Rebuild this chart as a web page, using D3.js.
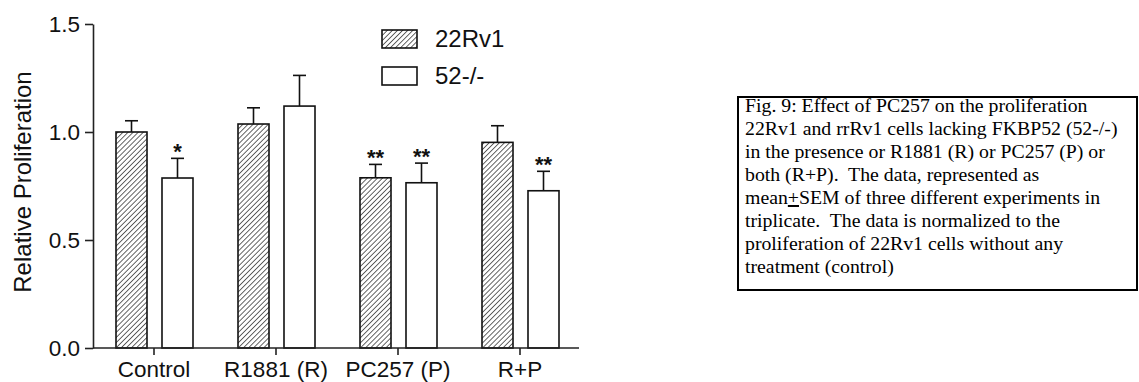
<!DOCTYPE html>
<html>
<head>
<meta charset="utf-8">
<script src="https://cdn.jsdelivr.net/npm/d3@7"></script>
<style>
    body { margin: 0; background: #fff; }
    svg { display: block; }
</style>
</head>
<body>
<div id="container"></div>
<script>
var width = 1139,
    height = 382;

// data
var categories = ["Control", "R1881 (R)", "PC257 (P)", "R+P"];
var series = ["22Rv1", "52-/-"];
var val22 = [1.0, 1.037, 0.788, 0.952];
var sem22 = [0.052, 0.075, 0.062, 0.077];
var val52 = [0.787, 1.12, 0.765, 0.728];
var sem52 = [0.091, 0.142, 0.091, 0.09];
var sig22 = ["", "", "**", ""];
var sig52 = ["*", "", "**", "**"];
var yTicks = [0, 0.5, 1.0, 1.5];

var caption = [
    "Fig. 9: Effect of PC257 on the proliferation",
    "22Rv1 and rrRv1 cells lacking FKBP52 (52-/-)",
    "in the presence or R1881 (R) or PC257 (P) or",
    "both (R+P).  The data, represented as",
    "mean|+|SEM of three different experiments in",
    "triplicate.  The data is normalized to the",
    "proliferation of 22Rv1 cells without any",
    "treatment (control)"
];

var svg = d3.select("#container").append("svg")
    .attr("width", width)
    .attr("height", height);

var defs = svg.append("defs");
defs.append("pattern")
    .attr("id", "hatch")
    .attr("patternUnits", "userSpaceOnUse")
    .attr("width", 3.6)
    .attr("height", 3.6)
    .attr("patternTransform", "rotate(45)")
    .append("line")
    .attr("x1", 0).attr("y1", 0)
    .attr("x2", 0).attr("y2", 3.6)
    .attr("stroke", "#111")
    .attr("stroke-width", 1.3);

var mLeft = 93, mRight = 581, mTop = 24, mBottom = 348;

var y = d3.scaleLinear().domain([0, 1.5]).range([mBottom, mTop]);
var x0 = d3.scaleBand().domain(categories).range([mLeft, mRight]);
var x1 = d3.scaleBand().domain(series).range([23, 100]).paddingInner(0.326);

var rows = categories.map((c, i) => {
    return [
        { cat: c, s: series[0], v: val22[i], e: sem22[i], sig: sig22[i] },
        { cat: c, s: series[1], v: val52[i], e: sem52[i], sig: sig52[i] }
    ];
});
var bars = [].concat.apply([], rows);

var fillOf = s => s == series[0] ? "url(#hatch)" : "#fff";
var bx = d => x0(d.cat) + x1(d.s);

// error bars (upper half only)
svg.selectAll(".err")
    .data(bars)
    .enter().append("line")
    .attr("class", "err")
    .attr("x1", d => bx(d) + x1.bandwidth() / 2)
    .attr("x2", d => bx(d) + x1.bandwidth() / 2)
    .attr("y1", d => y(d.v))
    .attr("y2", d => y(d.v + d.e))
    .attr("stroke", "#111")
    .attr("stroke-width", 1.6);

svg.selectAll(".cap")
    .data(bars)
    .enter().append("line")
    .attr("class", "cap")
    .attr("x1", d => bx(d) + x1.bandwidth() / 2 - 6.5)
    .attr("x2", d => bx(d) + x1.bandwidth() / 2 + 6.5)
    .attr("y1", d => y(d.v + d.e))
    .attr("y2", d => y(d.v + d.e))
    .attr("stroke", "#111")
    .attr("stroke-width", 1.6);

svg.selectAll(".bar")
    .data(bars)
    .enter().append("rect")
    .attr("class", "bar")
    .attr("x", d => bx(d))
    .attr("y", d => y(d.v))
    .attr("width", x1.bandwidth())
    .attr("height", d => y(0) - y(d.v))
    .attr("fill", d => fillOf(d.s))
    .attr("stroke", "#111")
    .attr("stroke-width", 1.6);

// significance stars sit just above the caps
svg.selectAll(".sig")
    .data(bars.filter(d => d.sig != ""))
    .enter().append("text")
    .attr("class", "sig")
    .attr("x", d => bx(d) + x1.bandwidth() / 2)
    .attr("y", d => y(d.v + d.e) + 1)
    .attr("text-anchor", "middle")
    .attr("font-family", "Liberation Sans, Arial, sans-serif")
    .attr("font-size", 22)
    .attr("font-weight", "bold")
    .attr("fill", "#111")
    .text(d => d.sig);

// axes
var yAxis = svg.append("g")
    .attr("transform", "translate(" + mLeft + ",0)")
    .call(d3.axisLeft(y).tickValues(yTicks).tickFormat(d3.format(".1f")).tickSize(8).tickSizeOuter(0).tickPadding(5));

var xAxis = svg.append("g")
    .attr("transform", "translate(0," + mBottom + ")")
    .call(d3.axisBottom(x0).tickSize(7).tickSizeOuter(0).tickPadding(6));

[yAxis, xAxis].forEach(g => {
    g.selectAll("path, line").attr("stroke", "#222").attr("stroke-width", 1.6);
    g.selectAll("text")
        .attr("font-family", "Liberation Sans, Arial, sans-serif")
        .attr("font-size", 22.5)
        .attr("fill", "#111");
});
xAxis.select(".domain").attr("d", "M" + mLeft + ",0H" + (mRight - 2));

svg.append("text")
    .attr("transform", "translate(31," + ((mTop + mBottom) / 2 - 4) + ") rotate(-90)")
    .attr("text-anchor", "middle")
    .attr("font-family", "Liberation Sans, Arial, sans-serif")
    .attr("font-size", 24)
    .attr("fill", "#111")
    .text("Relative Proliferation");

// legend
var legend = svg.selectAll(".legend")
    .data(series)
    .enter().append("g")
    .attr("class", "legend")
    .attr("transform", (d, i) => "translate(382," + (30 + i * 37) + ")");

legend.append("rect")
    .attr("width", 35)
    .attr("height", 18)
    .attr("fill", d => fillOf(d))
    .attr("stroke", "#111")
    .attr("stroke-width", 1.6);

legend.append("text")
    .attr("x", 53)
    .attr("y", 17)
    .attr("font-family", "Liberation Sans, Arial, sans-serif")
    .attr("font-size", 24)
    .attr("fill", "#111")
    .text(d => d);

// caption box
svg.append("rect")
    .attr("x", 738)
    .attr("y", 97)
    .attr("width", 399)
    .attr("height", 193)
    .attr("fill", "none")
    .attr("stroke", "#000")
    .attr("stroke-width", 2);

var cap = svg.append("text")
    .attr("font-family", "Liberation Serif, Times New Roman, serif")
    .attr("font-size", 19.8)
    .attr("fill", "#000")
    .style("white-space", "pre");

caption.forEach((line, i) => {
    var t = cap.append("tspan")
        .attr("x", 745)
        .attr("y", 112 + i * 23);
    var parts = line.split("|");
    parts.forEach((p, k) => {
        var s = t.append("tspan").text(p);
        if (k == 1) s.attr("text-decoration", "underline");
    });
});
</script>
</body>
</html>
